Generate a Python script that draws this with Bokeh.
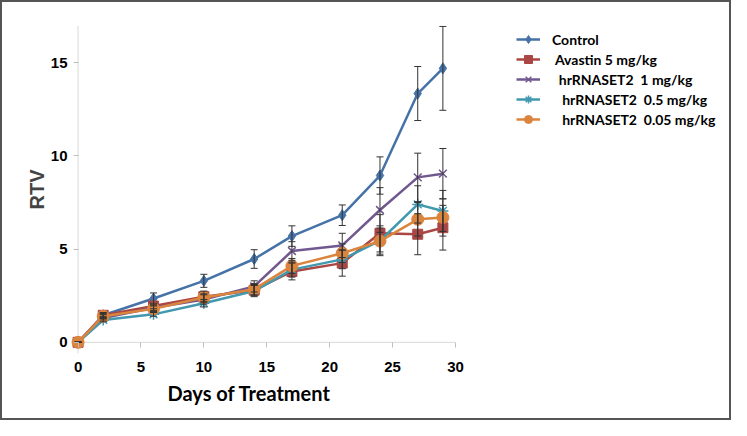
from bokeh.plotting import figure
from bokeh.models import Range1d, Whisker, ColumnDataSource, Legend, LegendItem, FixedTicker, Span, Title
from bokeh.embed import file_html
from bokeh.resources import INLINE

days = [0, 2, 6, 10, 14, 17, 21, 24, 27, 29]

series_names = ["Control", " Avastin 5 mg/kg", "  hrRNASET2  1 mg/kg",
                "   hrRNASET2  0.5 mg/kg", "   hrRNASET2  0.05 mg/kg"]

control = [0, 1.45, 2.35, 3.3, 4.47, 5.7, 6.82, 8.95, 13.35, 14.7]
control_err = [0, 0.15, 0.3, 0.35, 0.5, 0.55, 0.55, 1.0, 1.45, 2.25]

avastin = [0, 1.45, 1.95, 2.45, 2.8, 3.8, 4.25, 5.85, 5.8, 6.15]
avastin_err = [0, 0.1, 0.15, 0.3, 0.3, 0.45, 0.7, 1.0, 1.1, 1.2]

hr_1 = [0, 1.3, 1.85, 2.3, 3.0, 4.9, 5.2, 7.1, 8.85, 9.05]
hr_1_err = [0, 0.1, 0.15, 0.25, 0.3, 0.5, 0.65, 1.2, 1.3, 1.35]

hr_05 = [0, 1.2, 1.5, 2.1, 2.75, 3.9, 4.45, 5.45, 7.4, 7.05]
hr_05_err = [0, 0.1, 0.1, 0.2, 0.3, 0.4, 0.5, 0.8, 1.0, 1.1]

hr_005 = [0, 1.4, 1.8, 2.4, 2.85, 4.1, 4.78, 5.43, 6.6, 6.7]
hr_005_err = [0, 0.1, 0.15, 0.2, 0.3, 0.4, 0.5, 0.7, 0.9, 1.0]

x_ticks = [0, 5, 10, 15, 20, 25, 30]
y_ticks = [0, 5, 10, 15]

values = [control, avastin, hr_1, hr_05, hr_005]
errors = [control_err, avastin_err, hr_1_err, hr_05_err, hr_005_err]
colors = ["#4572A7", "#AA4643", "#71588F", "#4198AF", "#DB843D"]
markers = ["diamond", "square", "x", "asterisk", "circle"]
msizes = [11, 10, 11, 11, 12]

# the frame extends to the right to leave room for the legend
p = figure(width=731, height=420, output_backend="svg", toolbar_location=None,
           x_range=Range1d(-0.6, 52.1), y_range=Range1d(-0.6, 17),
           min_border_left=68, min_border_right=0, min_border_top=23, min_border_bottom=69)
p.styles = {"border": "2px solid #555555", "box-sizing": "border-box"}
p.outline_line_color = None
p.xgrid.visible = False
p.ygrid.visible = False

for ax in (p.xaxis, p.yaxis):
    ax.axis_line_color = None
    ax.major_tick_line_color = "#bfbfbf"
    ax.minor_tick_line_color = None
    ax.major_label_text_font = "Liberation Sans"
    ax.major_label_text_font_style = "bold"
    ax.major_label_text_font_size = "15px"
    ax.major_label_text_color = "black"

# ticks start at the zero lines (inside the padded frame) and point outward
p.xaxis.major_tick_in = 11
p.xaxis.major_tick_out = -6
p.yaxis.major_tick_in = 8
p.yaxis.major_tick_out = -3
p.xaxis.ticker = FixedTicker(ticks=x_ticks)
p.yaxis.ticker = FixedTicker(ticks=y_ticks)
p.xaxis.major_label_standoff = 8
p.yaxis.major_label_standoff = 3

# axis lines at zero
p.segment(x0=[x_ticks[0]], y0=[0], x1=[x_ticks[-1]], y1=[0], line_color="#d9d9d9", line_width=1, level="underlay")
p.add_layout(Span(location=0, dimension="height", line_color="#d9d9d9", line_width=1, level="underlay"))

p.yaxis.axis_label = "RTV"
p.yaxis.axis_label_text_font = "Liberation Sans"
p.yaxis.axis_label_text_font_style = "bold"
p.yaxis.axis_label_text_font_size = "20px"
p.yaxis.axis_label_standoff = 0

xtitle = Title(text="Days of Treatment", align="left", offset=97,
               text_font="Lato", text_font_style="bold", text_font_size="20px",
               text_color="black", standoff=8)
p.add_layout(xtitle, "below")

items = []
for name, vals, errs, col, mk, ms in zip(series_names, values, errors, colors, markers, msizes):
    lower = [v - e for v, e in zip(vals, errs)]
    upper = [v + e for v, e in zip(vals, errs)]
    src = ColumnDataSource(dict(x=days, y=vals, lower=lower, upper=upper))
    w = Whisker(source=src, base="x", lower="lower", upper="upper",
                line_color="#333333", line_width=1, level="glyph")
    w.upper_head.line_color = "#333333"
    w.lower_head.line_color = "#333333"
    w.upper_head.size = 7
    w.lower_head.size = 7
    p.add_layout(w)
    r1 = p.line("x", "y", source=src, line_color=col, line_width=2.5)
    lw = 1.5 if mk in ("x", "asterisk") else 1
    r2 = p.scatter("x", "y", source=src, marker=mk, size=ms, fill_color=col,
                   line_color=col, line_width=lw)
    items.append(LegendItem(label=name, renderers=[r1, r2]))

legend = Legend(items=items, location=(446, 224))
legend.label_text_font = "Lato"
legend.label_text_font_style = "bold"
legend.label_text_font_size = "14px"
legend.label_text_color = "black"
legend.glyph_width = 24
legend.glyph_height = 20
legend.label_height = 20
legend.label_standoff = 12
legend.spacing = 0
legend.padding = 0
legend.margin = 0
legend.border_line_color = None
legend.background_fill_alpha = 0
p.add_layout(legend, "center")

open("out.html", "w").write(file_html(p, INLINE))
